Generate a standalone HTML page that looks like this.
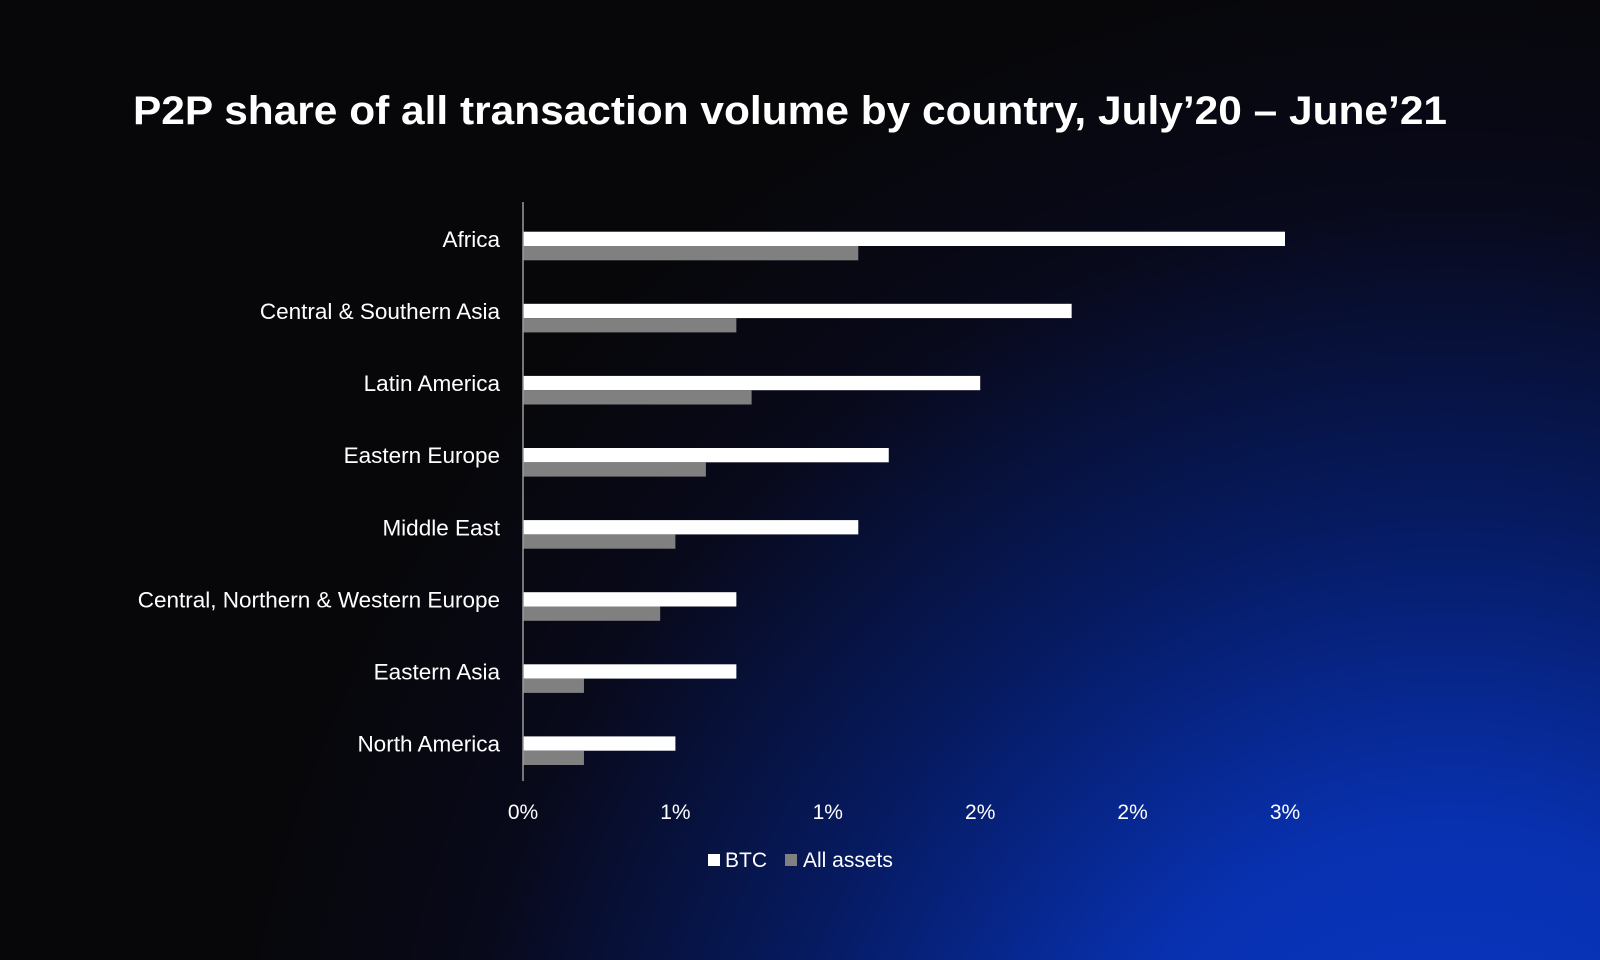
<!DOCTYPE html>
<html><head><meta charset="utf-8"><style>
html,body{margin:0;padding:0;width:1600px;height:960px;overflow:hidden;}
body{background:#050508;}
svg{display:block;font-family:"Liberation Sans",sans-serif;}
</style></head><body>
<svg id="chart" width="1600" height="960" viewBox="0 0 1600 960" xmlns="http://www.w3.org/2000/svg">
<defs>
<radialGradient id="bg" cx="1450" cy="1200" r="1250" gradientUnits="userSpaceOnUse">
<stop offset="0" stop-color="#0a38c8"/>
<stop offset="0.3" stop-color="#0831b0"/>
<stop offset="0.55" stop-color="#061a60"/>
<stop offset="0.8" stop-color="#08091a"/>
<stop offset="1" stop-color="#070709"/>
</radialGradient>
</defs>
<rect x="0" y="0" width="1600" height="960" fill="url(#bg)"/>
<text x="133" y="124" font-size="40" font-weight="bold" fill="#fff" textLength="1314" lengthAdjust="spacingAndGlyphs">P2P share of all transaction volume by country, July’20 – June’21</text>
<g id="plot"></g>
<g>
<rect x="708" y="854" width="12" height="12" fill="#fff"/>
<text x="725" y="867" font-size="21" fill="#fff">BTC</text>
<rect x="785" y="854" width="12" height="12" fill="#808080"/>
<text x="803" y="867" font-size="21" fill="#fff">All assets</text>
</g>
</svg>
<script>
const categories = ["Africa","Central & Southern Asia","Latin America","Eastern Europe","Middle East","Central, Northern & Western Europe","Eastern Asia","North America"];
const btcValues = [3.0, 2.16, 1.80, 1.44, 1.32, 0.84, 0.84, 0.60];
const allAssetsValues = [1.32, 0.84, 0.90, 0.72, 0.60, 0.54, 0.24, 0.24];
const tickValues = [0, 0.6, 1.2, 1.8, 2.4, 3.0];
const tickLabels = ["0%","1%","1%","2%","2%","3%"];

const NS = "http://www.w3.org/2000/svg";
const x0 = 523, x1 = 1285, xMax = 3.0;
const xScale = v => x0 + (v / xMax) * (x1 - x0);
const yTop = 210, step = 72.1;
const yCenter = i => yTop + 36 + i * step;
const barH = 14.3;
const plot = document.getElementById("plot");
function mk(tag, attrs){ const e = document.createElementNS(NS, tag); for (const k in attrs) e.setAttribute(k, attrs[k]); return e; }

categories.forEach((c, i) => {
  const yc = yCenter(i);
  const t = mk("text", {x: 500, y: yc - barH / 2 + 8, "text-anchor": "end", "font-size": 22.5, fill: "#fff"});
  
  
  t.textContent = c;
  plot.appendChild(t);
  const b = mk("rect", {x: x0, y: yc - barH, width: xScale(btcValues[i]) - x0, height: barH, fill: "#fff"});
  
  
  plot.appendChild(b);
  const g = mk("rect", {x: x0, y: yc, width: xScale(allAssetsValues[i]) - x0, height: barH, fill: "#808080"});
  
  
  plot.appendChild(g);
});

const axis = mk("line", {x1: x0, y1: 202, x2: x0, y2: 781, stroke: "#9a9a9a", "stroke-width": 1.5});


plot.appendChild(axis);

tickValues.forEach((v, i) => {
  const t = mk("text", {x: xScale(v), y: 819, "text-anchor": "middle", "font-size": 21, fill: "#fff"});
  
  
  t.textContent = tickLabels[i];
  plot.appendChild(t);
});
</script>
</body></html>
